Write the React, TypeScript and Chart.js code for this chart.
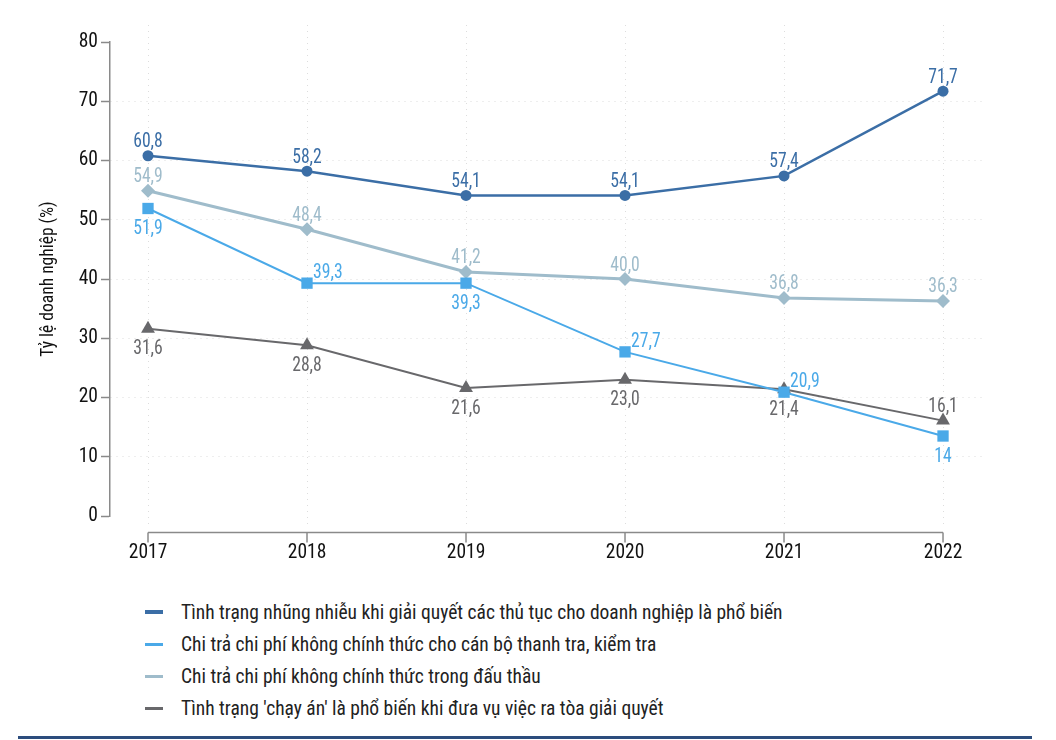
import React, { useEffect, useRef } from "react";
import { Chart, registerables } from "chart.js";

Chart.register(...registerables);

const years = [2017, 2018, 2019, 2020, 2021, 2022];
const yTicks = [0, 10, 20, 30, 40, 50, 60, 70, 80];

const seriesNames = [
  "Tình trạng nhũng nhiễu khi giải quyết các thủ tục cho doanh nghiệp là phổ biến",
  "Chi trả chi phí không chính thức cho cán bộ thanh tra, kiểm tra",
  "Chi trả chi phí không chính thức trong đấu thầu",
  "Tình trạng 'chạy án' là phổ biến khi đưa vụ việc ra tòa giải quyết",
];

const nhungNhieu = [60.8, 58.2, 54.1, 54.1, 57.4, 71.7];
const thanhTra = [51.9, 39.3, 39.3, 27.7, 20.9, 13.5];
const dauThau = [54.9, 48.4, 41.2, 40.0, 36.8, 36.3];
const chayAn = [31.6, 28.8, 21.6, 23.0, 21.4, 16.1];

const nhungNhieuLabels = ["60,8", "58,2", "54,1", "54,1", "57,4", "71,7"];
const thanhTraLabels = ["51,9", "39,3", "39,3", "27,7", "20,9", "14"];
const dauThauLabels = ["54,9", "48,4", "41,2", "40,0", "36,8", "36,3"];
const chayAnLabels = ["31,6", "28,8", "21,6", "23,0", "21,4", "16,1"];

const nhungNhieuPos = ["top", "top", "top", "top", "top", "top"];
const thanhTraPos = ["bottom", "right", "bottom", "right", "right", "bottom"];
const dauThauPos = ["top", "top", "top", "top", "top", "top"];
const chayAnPos = ["bottom", "bottom", "bottom", "bottom", "bottom", "top"];

const colors = ["#3b6ea6", "#4aa9e8", "#9fbccb", "#68686b"];
const FONT = "'Roboto Condensed', 'Liberation Sans Narrow', 'DejaVu Sans Condensed', Roboto, sans-serif";

const labelSets = [nhungNhieuLabels, thanhTraLabels, dauThauLabels, chayAnLabels];
const posSets = [nhungNhieuPos, thanhTraPos, dauThauPos, chayAnPos];

const toPts = (vals: number[]) => vals.map((v, i) => ({ x: years[i], y: v }));

const decorPlugin = {
  id: "decor",
  beforeDatasetsDraw(chart: any) {
    const { ctx, scales } = chart;
    const xs = scales.x;
    const ys = scales.y;
    ctx.save();
    // vertical dotted gridlines
    ctx.strokeStyle = "#dddddd";
    ctx.lineWidth = 1;
    ctx.setLineDash([1, 5]);
    years.forEach((yr) => {
      const px = Math.round(xs.getPixelForValue(yr)) + 0.5;
      ctx.beginPath();
      ctx.moveTo(px, ys.getPixelForValue(80) - 17);
      ctx.lineTo(px, ys.getPixelForValue(0) + 11);
      ctx.stroke();
    });
    ctx.setLineDash([]);
    // detached x axis
    const axisY = Math.round(ys.getPixelForValue(0)) + 16.5;
    ctx.strokeStyle = "#8a8a8a";
    ctx.lineWidth = 1.5;
    ctx.beginPath();
    ctx.moveTo(xs.getPixelForValue(years[0]), axisY);
    ctx.lineTo(xs.getPixelForValue(years[years.length - 1]), axisY);
    ctx.stroke();
    years.forEach((yr) => {
      const px = xs.getPixelForValue(yr);
      ctx.beginPath();
      ctx.moveTo(px, axisY);
      ctx.lineTo(px, axisY + 10);
      ctx.stroke();
    });
    ctx.restore();
  },
  afterDatasetsDraw(chart: any) {
    const { ctx } = chart;
    ctx.save();
    ctx.font = `21px ${FONT}`;
    ctx.textBaseline = "alphabetic";
    chart.data.datasets.forEach((ds: any, di: number) => {
      const meta = chart.getDatasetMeta(di);
      ctx.fillStyle = colors[di];
      meta.data.forEach((pt: any, i: number) => {
        const txt = labelSets[di][i];
        const pos = posSets[di][i];
        let x = pt.x;
        let y = pt.y;
        let align = "center";
        if (pos === "top") {
          y -= 8.5;
        } else if (pos === "bottom") {
          y += 25.5;
        } else if (pos === "right") {
          x += 6;
          y -= 5;
          align = "left";
        }
        ctx.save();
        ctx.translate(x, y);
        ctx.scale(0.84, 1);
        ctx.textAlign = align;
        ctx.fillText(txt, 0, 0);
        ctx.restore();
      });
    });
    ctx.restore();
  },
};

function ChartCanvas() {
  const ref = useRef<HTMLCanvasElement | null>(null);
  useEffect(() => {
    if (!ref.current) return;
    const chart = new Chart(ref.current, {
      type: "line",
      data: {
        datasets: [
          {
            label: seriesNames[0],
            data: toPts(nhungNhieu),
            borderColor: colors[0],
            backgroundColor: colors[0],
            borderWidth: 2.5,
            pointStyle: "circle",
            pointRadius: 5.5,
            pointBorderWidth: 0,
          },
          {
            label: seriesNames[1],
            data: toPts(thanhTra),
            borderColor: colors[1],
            backgroundColor: colors[1],
            borderWidth: 2,
            pointStyle: "rect",
            pointRadius: 8,
            pointBorderWidth: 0,
          },
          {
            label: seriesNames[2],
            data: toPts(dauThau),
            borderColor: colors[2],
            backgroundColor: colors[2],
            borderWidth: 3,
            pointStyle: "rectRot",
            pointRadius: 7,
            pointBorderWidth: 0,
          },
          {
            label: seriesNames[3],
            data: toPts(chayAn),
            borderColor: colors[3],
            backgroundColor: colors[3],
            borderWidth: 2,
            pointStyle: "triangle",
            pointRadius: 8,
            pointBorderWidth: 0,
          },
        ],
      },
      options: {
        animation: false,
        responsive: false,
        devicePixelRatio: 1,
        layout: { padding: { left: 0, right: 71, top: 42, bottom: 4 } },
        plugins: {
          legend: { display: false },
          tooltip: { enabled: false },
        },
        scales: {
          x: {
            type: "linear",
            min: 2016.761,
            max: 2022.264,
            afterBuildTicks: (s: any) => {
              s.ticks = years.map((v) => ({ value: v }));
            },
            afterFit: (s: any) => {
              s.height = 60;
            },
            grid: { display: false, drawTicks: false },
            border: { display: false },
            ticks: {
              padding: 25,
              color: "#111111",
              font: { family: FONT, size: 19.5 },
              callback: (v: any) => String(v),
              maxRotation: 0,
              autoSkip: false,
            },
          },
          y: {
            min: 0,
            max: 80,
            afterBuildTicks: (s: any) => {
              s.ticks = yTicks.map((v) => ({ value: v }));
            },
            afterFit: (s: any) => {
              s.width = 110;
            },
            grid: {
              color: (c: any) =>
                c.tick && (c.tick.value === 0 || c.tick.value === 80) ? "rgba(0,0,0,0)" : "#dddddd",
              lineWidth: 1,
              tickLength: 9,
              tickColor: "#8a8a8a",
              tickWidth: 1.5,
              tickBorderDash: [],
            } as any,
            border: { display: true, color: "#8a8a8a", width: 1.5, dash: [1, 5] },
            ticks: {
              padding: 3,
              color: "#111111",
              font: { family: FONT, size: 19.5 },
            },
            title: {
              display: true,
              text: "Tỷ lệ doanh nghiệp (%)",
              color: "#111111",
              font: { family: FONT, size: 17.5 },
              padding: { top: 38, bottom: 0 },
            },
          },
        },
      },
      plugins: [decorPlugin],
    } as any);
    return () => chart.destroy();
  }, []);
  return <canvas ref={ref} width={1056} height={580} style={{ position: "absolute", left: 0, top: 0 }} />;
}

const legendThickness = [4, 3, 3, 3];

export default function App() {
  return (
    <div
      style={{
        position: "absolute",
        left: 0,
        top: 0,
        width: 1056,
        height: 740,
        background: "#ffffff",
        overflow: "hidden",
        fontFamily: FONT,
      }}
    >
      <ChartCanvas />
      {seriesNames.map((name, i) => (
        <div
          key={name}
          style={{
            position: "absolute",
            left: 145,
            top: 599 + i * 32,
            height: 26,
            display: "flex",
            alignItems: "center",
            fontSize: 19.5,
            color: "#222222",
            whiteSpace: "nowrap",
          }}
        >
          <span
            style={{
              display: "inline-block",
              width: 18,
              height: legendThickness[i],
              background: colors[i],
              marginRight: 18,
            }}
          />
          <span>{name}</span>
        </div>
      ))}
      <div
        style={{
          position: "absolute",
          left: 18,
          top: 736,
          width: 1014,
          height: 3,
          background: "#2c4d7d",
        }}
      />
    </div>
  );
}
